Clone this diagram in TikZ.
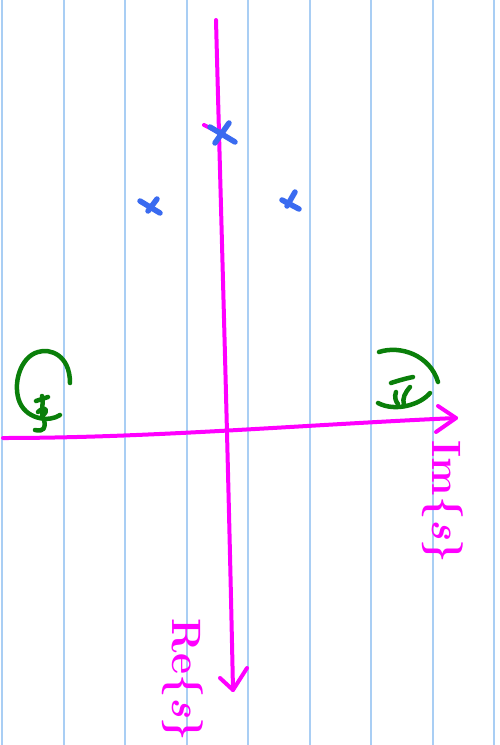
\documentclass[tikz,border=0pt]{standalone}
\usepackage{tikz}
\definecolor{gridblue}{HTML}{A9CEF4}
\definecolor{pen}{HTML}{FF00FF}
\definecolor{greenpen}{HTML}{0A7F0A}
\definecolor{bluepen}{HTML}{3A6BF0}
\tikzset{
  gridline/.style={gridblue,line width=1.6pt},
  axispen/.style={pen,line width=4pt,line cap=round,line join=round},
  greenstroke/.style={greenpen,line width=4.5pt,line cap=round,line join=round},
  pole/.style={bluepen,line width=5.5pt,line cap=round},
  axislabel/.style={pen,font=\fontsize{41}{41}\selectfont\bfseries,inner sep=0pt}
}
\begin{document}
\begin{tikzpicture}[x=1pt,y=-1pt]
\useasboundingbox (0,0) rectangle (500,745);
\fill[white] (0,0) rectangle (500,745);
% ruled paper lines
\foreach \gx in {2,64,125,187,248,310,371,433,494}
  \draw[gridline] (\gx,0) -- (\gx,745);
% axes
\coordinate (vtop) at (216,20);
\coordinate (vbot) at (233,690);
\coordinate (hleft) at (3,438);
\coordinate (hright) at (456,418);
\draw[axispen] (vtop) .. controls (222,250) and (228,450) .. (vbot);
\draw[axispen] (hleft) .. controls (150,438) and (300,425) .. (hright);
\draw[axispen] (438,406) -- (hright) -- (436,432);
\draw[axispen] (220,678) -- (vbot) -- (247,668);
% small stroke through top pole
\coordinate (s1) at (204,125);
\coordinate (s2) at (220,133);
\draw[axispen] (s1) -- (s2);
% poles
\draw[pole] (210,127) -- (235,142);
\draw[pole] (229,123) -- (215,143);
\draw[pole] (140,201) -- (160,213);
\draw[pole] (157,199) -- (148,211);
\draw[pole] (282,200) -- (299,209);
\draw[pole] (295,192) -- (287,206);
% green marks left
\draw[greenstroke] (70,383) .. controls (70,355) and (50,348) .. (38,352)
  .. controls (20,357) and (12,385) .. (20,403)
  .. controls (28,420) and (50,422) .. (60,415);
\draw[greenstroke] (36,401) -- (48,397);
\draw[greenstroke] (42,396) .. controls (44,405) and (40,412) .. (44,420)
  .. controls (46,428) and (44,432) .. (35,430);
\draw[greenstroke] (38,412) .. controls (45,405) and (50,410) .. (42,416);
% green marks right
\draw[greenstroke] (379,352) .. controls (400,345) and (430,355) .. (438,382);
\draw[greenstroke] (378,403) .. controls (395,412) and (420,405) .. (430,393);
\draw[greenstroke] (391,383) .. controls (400,380) and (408,378) .. (413,377);
\draw[greenstroke] (410,387) .. controls (405,393) and (402,398) .. (404,405);
\draw[greenstroke] (396,392) .. controls (394,397) and (396,402) .. (398,404);
% labels
\node[axislabel,rotate=-90] (imlabel) at (443,502) {Im\{\textit{s}\}};
\node[axislabel,rotate=-90] (relabel) at (183,680) {Re\{\textit{s}\}};
\end{tikzpicture}
\end{document}
